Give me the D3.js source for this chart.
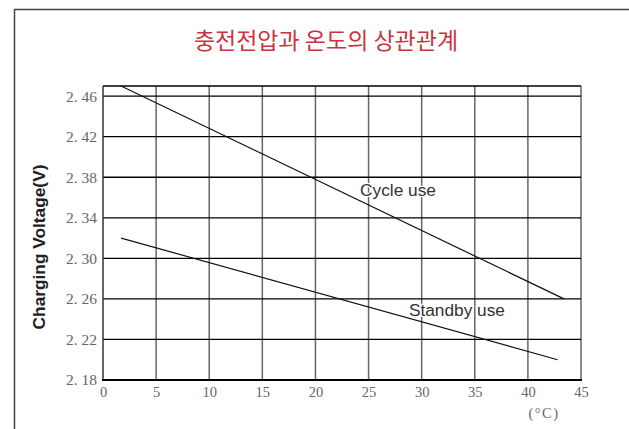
<!DOCTYPE html>
<html>
<head>
<meta charset="utf-8">
<script src="https://cdn.jsdelivr.net/npm/d3@7"></script>
<style>
  body { margin: 0; background: #fff; }
  svg { display: block; }
</style>
</head>
<body>
<svg id="chart" width="629" height="429"></svg>
<script>
// ---- data ----
const titleText = "충전전압과 온도의 상관관계";
const yAxisTitle = "Charging Voltage(V)";
const xUnitLabel = "(°C)";
const xTicks = [0, 5, 10, 15, 20, 25, 30, 35, 40, 45];
const yTicks = [2.18, 2.22, 2.26, 2.30, 2.34, 2.38, 2.42, 2.46];
const seriesNames = ["Cycle use", "Standby use"];
const cycleTemps = [1.7, 43.4];
const cycleVolts = [2.47, 2.26];
const standbyTemps = [1.7, 42.8];
const standbyVolts = [2.32, 2.20];
const labelPos = [[24.2, 2.3615], [28.8, 2.2434]]; // series label anchor (temp, volt)

// ---- layout ----
const svg = d3.select("#chart");
const pL = 103, pR = 581, pT = 86, pB = 380;
const x = d3.scaleLinear().domain([0, 45]).range([pL, pR]);
const y = d3.scaleLinear().domain([2.18, 2.47]).range([pB, pT]);

// outer frame
svg.append("path")
  .attr("d", "M14.5,429 L14.5,9.5 L629,9.5")
  .attr("fill", "none").attr("stroke", "#444").attr("stroke-width", 1.5);

// title
svg.append("text")
  .attr("x", 326).attr("y", 49)
  .attr("text-anchor", "middle")
  .attr("font-family", "'Noto Sans CJK KR', sans-serif")
  .attr("font-size", 23)
  .attr("fill", "#cc3340")
  .text(titleText);

// vertical grid lines
svg.append("g").selectAll("line").data(xTicks.filter(d => d > 0)).join("line")
  .attr("x1", d => x(d)).attr("x2", d => x(d))
  .attr("y1", pT).attr("y2", pB)
  .attr("stroke", "#666").attr("stroke-width", 1.5);

// horizontal grid lines
svg.append("g").selectAll("line").data(yTicks.filter(d => d > 2.18)).join("line")
  .attr("x1", pL).attr("x2", pR)
  .attr("y1", d => y(d)).attr("y2", d => y(d))
  .attr("stroke", "#000").attr("stroke-width", 1.3);

// top border
svg.append("line")
  .attr("x1", pL).attr("x2", pR).attr("y1", pT).attr("y2", pT)
  .attr("stroke", "#000").attr("stroke-width", 1.3);
// left border
svg.append("line")
  .attr("x1", pL).attr("x2", pL).attr("y1", pT).attr("y2", pB)
  .attr("stroke", "#333").attr("stroke-width", 1.5);
// bottom border
svg.append("line")
  .attr("x1", pL - 1).attr("x2", pR + 1).attr("y1", pB).attr("y2", pB)
  .attr("stroke", "#000").attr("stroke-width", 2);

// y axis labels
const yAxis = d3.axisLeft(y).tickValues(yTicks).tickSize(0).tickPadding(6)
  .tickFormat(d => d.toFixed(2).replace(".", ". "));
const gy = svg.append("g").attr("transform", `translate(${pL},0)`).call(yAxis);
gy.select(".domain").remove();
gy.attr("font-family", "'Liberation Serif', serif").attr("font-size", 15.5);
gy.selectAll("text")
  .attr("fill", "#666")
  .style("white-space", "pre");

// x axis labels
const xAxis = d3.axisBottom(x).tickValues(xTicks).tickSize(0).tickPadding(7)
  .tickFormat(d3.format("d"));
const gx = svg.append("g").attr("transform", `translate(0,${pB})`).call(xAxis);
gx.select(".domain").remove();
gx.attr("font-family", "'Liberation Serif', serif").attr("font-size", 14.5);
gx.selectAll("text").attr("fill", "#666");

// unit label
svg.append("text")
  .attr("x", 544).attr("y", 418)
  .attr("text-anchor", "middle")
  .attr("font-family", "'Liberation Serif', serif")
  .attr("font-size", 14.5)
  .attr("letter-spacing", 1.5)
  .attr("fill", "#666")
  .text(xUnitLabel);

// y axis title
svg.append("text")
  .attr("transform", "translate(45,247) rotate(-90)")
  .attr("text-anchor", "middle")
  .attr("font-family", "'Liberation Sans', Arial, sans-serif")
  .attr("font-weight", "bold")
  .attr("font-size", 17.3)
  .attr("fill", "#222")
  .text(yAxisTitle);

// series lines
const line = d3.line().x(d => x(d[0])).y(d => y(d[1]));
const series = [
  d3.zip(cycleTemps, cycleVolts),
  d3.zip(standbyTemps, standbyVolts)
];
svg.append("g").selectAll("path").data(series).join("path")
  .attr("d", line)
  .attr("fill", "none")
  .attr("stroke", "#111")
  .attr("stroke-width", 1.2);

// series labels
svg.append("g").selectAll("text").data(seriesNames).join("text")
  .attr("x", (d, i) => x(labelPos[i][0]))
  .attr("y", (d, i) => y(labelPos[i][1]))
  .attr("font-family", "'Liberation Sans', Arial, sans-serif")
  .attr("font-size", 17.3)
  .attr("fill", "#333")
  .attr("stroke", "#fff").attr("stroke-width", 2.5)
  .attr("paint-order", "stroke")
  .text(d => d);
</script>
</body>
</html>
